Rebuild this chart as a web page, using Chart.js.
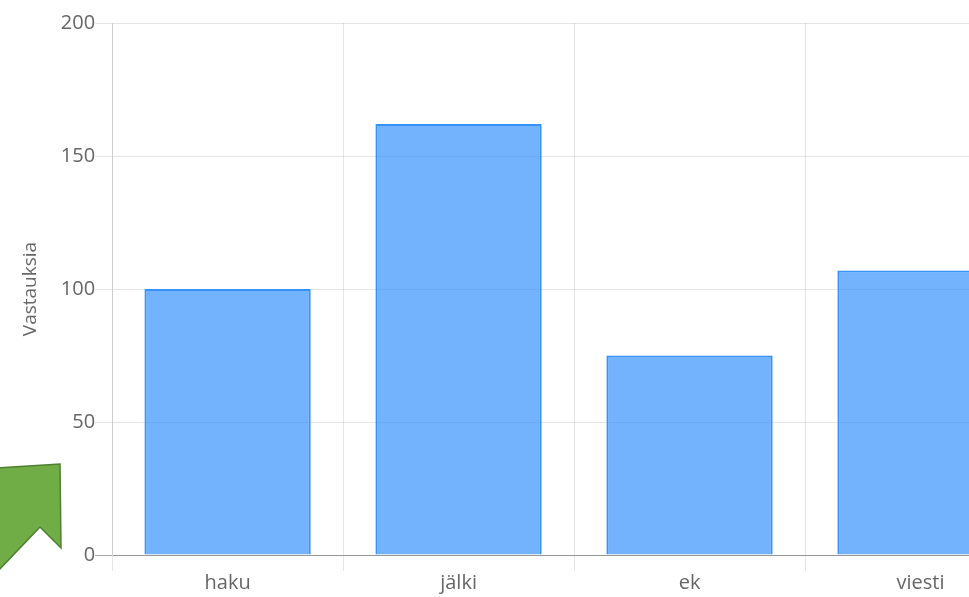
<!DOCTYPE html>
<html>
<head>
<meta charset="utf-8">
<script src="https://cdn.jsdelivr.net/npm/chart.js@4"></script>
<style>
  html, body { margin: 0; padding: 0; background: #fff; overflow: hidden; }
  #wrap { position: relative; width: 1040px; height: 597px; }
  #arrow { position: absolute; left: 0; top: 0; pointer-events: none; }
</style>
</head>
<body>
<div id="wrap">
  <canvas id="myChart" width="1040" height="597"></canvas>
  <svg id="arrow" width="969" height="597">
    <polygon points="-2,468 60,464 61,548 40,527 -2,571" fill="#70ad47" stroke="#507e32" stroke-width="1.5"/>
  </svg>
</div>
<script>
// data
const categories = ['haku', 'jälki', 'ek', 'viesti']
const answers = [100, 162, 75, 107]
const yTicks = [0, 50, 100, 150, 200]

const ctx = document.getElementById('myChart')
new Chart(ctx, {
    type: 'bar',
    data: {
        labels: categories,
        datasets: [{
            label: 'Vastauksia',
            data: answers,
            backgroundColor: 'rgba(56, 146, 251, 0.7)',
            borderColor: 'rgba(45, 140, 252, 0.95)',
            borderWidth: 2
        }]
    },
    options: {
        responsive: false,
        animation: false,
        maintainAspectRatio: false,
        layout: { padding: { top: 23, right: 4, bottom: 2, left: 15 } },
        plugins: {
            legend: { display: false },
            tooltip: { enabled: false }
        },
        scales: {
            x: {
                ticks: { color: '#666', padding: 0, font: { family: 'Open Sans', size: 20 } },
                grid: { color: 'rgba(0,0,0,0.1)', tickLength: 16 },
                border: { color: 'rgba(0,0,0,0.1)' }
            },
            y: {
                min: 0,
                max: 200,
                afterBuildTicks: (axis) => { axis.ticks = yTicks.map(v => ({ value: v })) },
                title: {
                    display: true,
                    text: 'Vastauksia',
                    color: '#666',
                    padding: { top: 4, bottom: 19 },
                    font: { family: 'Open Sans', size: 19 }
                },
                ticks: { color: '#666', padding: 0, font: { family: 'Open Sans', size: 20 } },
                grid: {
                    tickLength: 17,
                    color: (c) => c.tick && c.tick.value === 0 ? 'rgba(0,0,0,0.35)' : 'rgba(0,0,0,0.1)'
                },
                border: { color: 'rgba(0,0,0,0.1)' }
            }
        }
    }
})
</script>
</body>
</html>
